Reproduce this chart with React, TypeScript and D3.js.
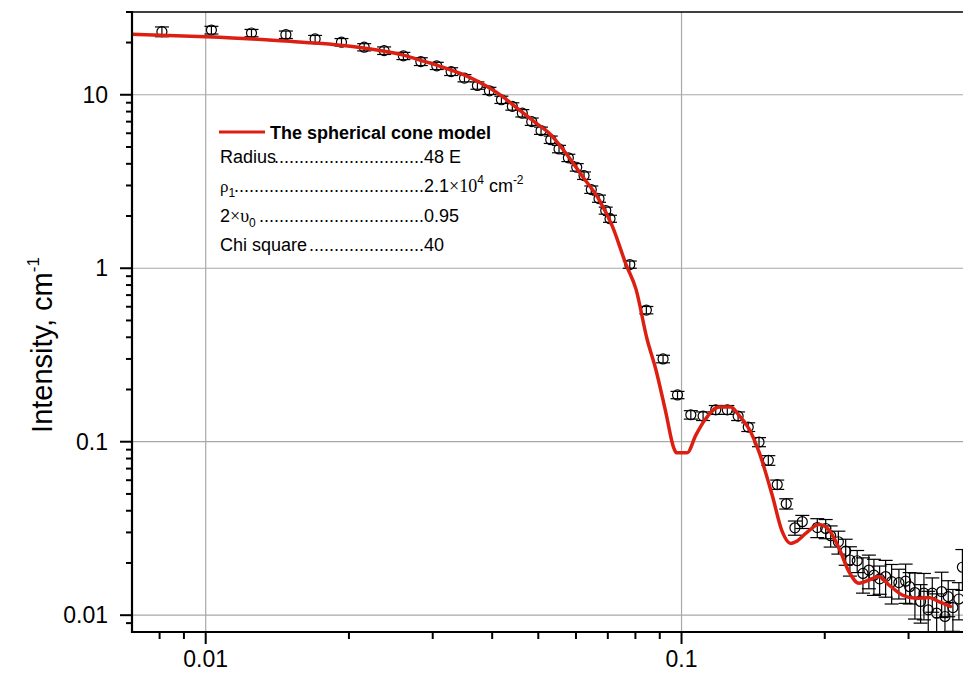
import React from "react";
import * as d3 from "d3";

// ---- data ----
const qData = [0.00809, 0.01028, 0.01248, 0.01474, 0.01698, 0.01929, 0.02153, 0.02371, 0.02603, 0.02832,
  0.03059, 0.03279, 0.03498, 0.03724, 0.03947, 0.04183, 0.0441, 0.04628, 0.04844, 0.05067,
  0.05311, 0.05528, 0.05783, 0.06022, 0.06239, 0.06462, 0.06708, 0.0693, 0.07075, 0.07785,
  0.08435, 0.09145, 0.09808, 0.1046, 0.111, 0.118, 0.1248, 0.1315, 0.1381, 0.1455,
  0.1522, 0.1589, 0.166, 0.1731, 0.1794, 0.1929, 0.2009, 0.2058, 0.2136, 0.2213,
  0.2259, 0.234, 0.2406, 0.2476, 0.2537, 0.2608, 0.2685, 0.2764, 0.2863, 0.2958,
  0.3016, 0.3094, 0.318, 0.3232, 0.33, 0.3365, 0.3437, 0.3521, 0.3578, 0.3635,
  0.3718, 0.3828, 0.3893];
const iData = [23.1, 23.6, 22.7, 22.2, 20.98, 20.09, 18.8, 17.97, 16.75, 15.54,
  14.68, 13.61, 12.47, 11.31, 10.54, 9.36, 8.57, 7.83, 7.0, 6.21,
  5.51, 4.87, 4.33, 3.82, 3.42, 2.84, 2.52, 2.15, 1.93, 1.05,
  0.574, 0.3, 0.186, 0.143, 0.1405, 0.1527, 0.1527, 0.1405, 0.1215, 0.0996,
  0.0781, 0.0566, 0.0439, 0.0319, 0.0346, 0.032, 0.0316, 0.0287, 0.0265, 0.0234,
  0.0208, 0.0206, 0.0174, 0.0182, 0.017, 0.0162, 0.0167, 0.0156, 0.0154, 0.0157,
  0.0146, 0.0135, 0.012, 0.0134, 0.01073, 0.0134, 0.01027, 0.01369, 0.00983, 0.0128,
  0.01107, 0.0124, 0.0189];
const errData = [1.5, 1.2, 1.1, 1.1, 1.0, 1.0, 0.9, 0.9, 0.8, 0.8,
  0.7, 0.7, 0.6, 0.55, 0.5, 0.45, 0.42, 0.38, 0.34, 0.3,
  0.27, 0.24, 0.21, 0.19, 0.17, 0.14, 0.12, 0.1, 0.09, 0.05,
  0.028, 0.015, 0.009, 0.008, 0.008, 0.009, 0.009, 0.008, 0.007, 0.006,
  0.005, 0.0035, 0.003, 0.003, 0.003, 0.004, 0.004, 0.004, 0.004, 0.004,
  0.004, 0.003, 0.004, 0.004, 0.004, 0.003, 0.004, 0.004, 0.003, 0.004,
  0.003, 0.004, 0.003, 0.004, 0.003, 0.003, 0.003, 0.004, 0.002, 0.003,
  0.003, 0.003, 0.005];

const modelQ = [0.007, 0.01, 0.01254, 0.01474, 0.01731, 0.02034, 0.02391, 0.0259, 0.02809, 0.03044,
  0.033, 0.03578, 0.03879, 0.04201, 0.04555, 0.04939, 0.05267, 0.0571, 0.06187, 0.06708,
  0.07154, 0.07643, 0.08022, 0.08463, 0.08826, 0.09265, 0.09643, 0.09752, 0.1028, 0.1071,
  0.1124, 0.1199, 0.1269, 0.1321, 0.1386, 0.1455, 0.1551, 0.1628, 0.1696, 0.1738,
  0.1824, 0.1945, 0.2042, 0.2143, 0.2248, 0.236, 0.2476, 0.26, 0.2729, 0.291,
  0.3105, 0.3311, 0.3475, 0.3677];
const modelI = [22.3, 21.6, 20.98, 20.4, 19.8, 18.95, 17.74, 16.98, 15.89, 14.87,
  13.79, 12.64, 11.26, 9.78, 8.2, 6.88, 6.02, 4.62, 3.39, 2.49,
  1.75, 1.054, 0.758, 0.391, 0.2627, 0.1482, 0.0912, 0.0865, 0.0865, 0.1087,
  0.1356, 0.1583, 0.1583, 0.1416, 0.1188, 0.0873, 0.0491, 0.0303, 0.0259, 0.0265,
  0.0296, 0.0333, 0.0309, 0.0243, 0.01783, 0.01527, 0.01595, 0.01669, 0.01493, 0.01308,
  0.01252, 0.01264, 0.01199, 0.01122];

const xMajorTicks = [0.01, 0.1];
const xMajorLabels = ["0.01", "0.1"];
const xMinorTicks = [0.008, 0.009, 0.02, 0.03, 0.04, 0.05, 0.06, 0.07, 0.08, 0.09, 0.2, 0.3];
const yMajorTicks = [0.01, 0.1, 1, 10];
const yMajorLabels = ["0.01", "0.1", "1", "10"];
const yMinorTicks = [0.009, 0.02, 0.03, 0.04, 0.05, 0.06, 0.07, 0.08, 0.09,
  0.2, 0.3, 0.4, 0.5, 0.6, 0.7, 0.8, 0.9, 2, 3, 4, 5, 6, 7, 8, 9, 20, 30];

const legendTitle = "The spherical cone model";
const seriesColor = "#dd1f12";

const W = 963, H = 675;
const L = 132, R = 968, T = 12, B = 632;

export default function App() {
  const x = d3.scaleLog().domain([0.007, 0.4]).range([L, R]);
  const y = d3.scaleLog().domain([0.008, 30]).range([B, T]);

  const line = d3.line<number>()
    .x((_, i) => x(modelQ[i]))
    .y((d) => y(d))
    .curve(d3.curveMonotoneX);

  const sans = "'Liberation Sans', Arial, Helvetica, sans-serif";
  const serif = "'Liberation Serif', 'Times New Roman', serif";
  const grid = "#a8a8a8";
  const dots = (n: number) => ".".repeat(n);
  const valX = 424;

  return (
    <svg width={W} height={H} style={{ position: "absolute", left: 0, top: 0, background: "#fff" }}
      fontFamily={sans}>
      <defs>
        <clipPath id="plotClip">
          <rect x={L} y={T} width={W - L} height={B - T} />
        </clipPath>
      </defs>
      <rect x={0} y={0} width={W} height={H} fill="#fff" />
      {/* grid */}
      {yMajorTicks.map((t) => (
        <line key={"gy" + t} x1={L} x2={W} y1={y(t)} y2={y(t)} stroke={grid} strokeWidth={1.2} />
      ))}
      {xMajorTicks.map((t) => (
        <line key={"gx" + t} x1={x(t)} x2={x(t)} y1={T} y2={B} stroke={grid} strokeWidth={1.2} />
      ))}
      {/* top border */}
      <line x1={L} x2={W} y1={T} y2={T} stroke="#000" strokeWidth={1.5} />

      {/* data */}
      <g clipPath="url(#plotClip)">
        {qData.map((q, i) => {
          const cx = x(q);
          const lo = y(Math.max(iData[i] - errData[i], 1e-4));
          const hi = y(iData[i] + errData[i]);
          return (
            <g key={"p" + i} stroke="#000" strokeWidth={1.2} fill="none">
              <line x1={cx} x2={cx} y1={lo} y2={hi} />
              <line x1={cx - 7} x2={cx + 7} y1={lo} y2={lo} />
              <line x1={cx - 7} x2={cx + 7} y1={hi} y2={hi} />
              <circle cx={cx} cy={y(iData[i])} r={5} />
            </g>
          );
        })}
        <path d={line(modelI) || ""} fill="none" stroke={seriesColor} strokeWidth={3.5}
          strokeLinejoin="round" strokeLinecap="round" />
      </g>

      {/* axes */}
      <line x1={L} x2={L} y1={T - 1} y2={B + 1} stroke="#000" strokeWidth={2.2} />
      <line x1={L - 1} x2={W} y1={B} y2={B} stroke="#000" strokeWidth={2.2} />
      {yMajorTicks.map((t, i) => (
        <g key={"ym" + t}>
          <line x1={L - 12} x2={L} y1={y(t)} y2={y(t)} stroke="#000" strokeWidth={2} />
          <text x={108} y={y(t)} dy="0.35em" textAnchor="end" fontSize={23}>{yMajorLabels[i]}</text>
        </g>
      ))}
      {yMinorTicks.map((t) => (
        <line key={"yn" + t} x1={L - 6} x2={L} y1={y(t)} y2={y(t)} stroke="#000" strokeWidth={2} />
      ))}
      {xMajorTicks.map((t, i) => (
        <g key={"xm" + t}>
          <line x1={x(t)} x2={x(t)} y1={B} y2={B + 12} stroke="#000" strokeWidth={2} />
          <text x={x(t)} y={667} textAnchor="middle" fontSize={23}>{xMajorLabels[i]}</text>
        </g>
      ))}
      {xMinorTicks.map((t) => (
        <line key={"xn" + t} x1={x(t)} x2={x(t)} y1={B} y2={B + 7} stroke="#000" strokeWidth={2} />
      ))}

      {/* y title */}
      <text transform="translate(52,345) rotate(-90)" textAnchor="middle" fontSize={29}>
        Intensity, cm<tspan fontSize={17} dy={-13}>-1</tspan>
      </text>

      {/* legend */}
      <line x1={219} x2={265} y1={132} y2={132} stroke={seriesColor} strokeWidth={3} />
      <text x={270} y={139} fontSize={18} fontWeight="bold">{legendTitle}</text>
      <g fontSize={18}>
        <text x={220} y={163}>Radius</text>
        <text x={valX} y={163} textAnchor="end">{dots(30)}</text>
        <text x={valX} y={163}>48 E</text>

        <text x={220} y={192}><tspan fontFamily={serif} fontSize={17}>ρ</tspan><tspan fontSize={12} dy={5}>1</tspan></text>
        <text x={valX} y={192} textAnchor="end">{dots(38)}</text>
        <text x={valX} y={192}>2.1<tspan fontFamily={serif}>×10</tspan><tspan fontSize={12} dy={-8}>4</tspan><tspan dy={8}> cm</tspan><tspan fontSize={12} dy={-8}>-2</tspan></text>

        <text x={220} y={222}>2<tspan fontFamily={serif}>×υ</tspan><tspan fontSize={12} dy={5}>0</tspan></text>
        <text x={valX} y={222} textAnchor="end">{dots(33)}</text>
        <text x={valX} y={222}>0.95</text>

        <text x={220} y={251}>Chi square</text>
        <text x={valX} y={251} textAnchor="end">{dots(23)}</text>
        <text x={valX} y={251}>40</text>
      </g>
    </svg>
  );
}
